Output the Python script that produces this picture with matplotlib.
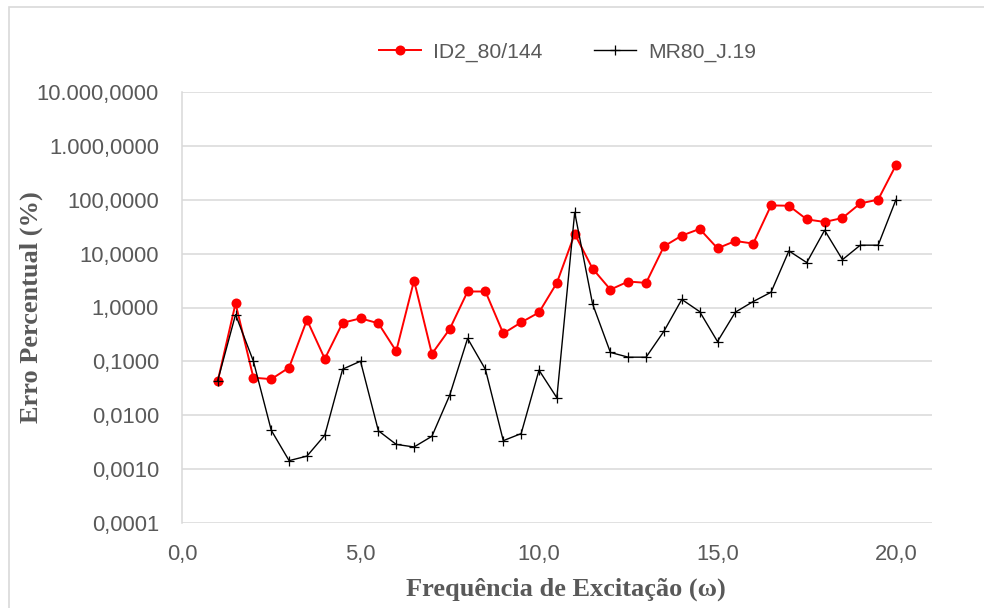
import matplotlib
matplotlib.use("Agg")
import matplotlib.pyplot as plt
from matplotlib.patches import Rectangle
from matplotlib.ticker import FixedLocator, FixedFormatter, NullLocator

# ---- data ----
freq = [1.0, 1.5, 2.0, 2.5, 3.0, 3.5, 4.0, 4.5, 5.0, 5.5, 6.0, 6.5, 7.0, 7.5,
        8.0, 8.5, 9.0, 9.5, 10.0, 10.5, 11.0, 11.5, 12.0, 12.5, 13.0, 13.5,
        14.0, 14.5, 15.0, 15.5, 16.0, 16.5, 17.0, 17.5, 18.0, 18.5, 19.0,
        19.5, 20.0]
id2 = [0.043, 1.19, 0.050, 0.047, 0.077, 0.59, 0.112, 0.52, 0.63, 0.51,
       0.155, 3.16, 0.138, 0.40, 1.98, 1.98, 0.33, 0.53, 0.81, 2.86, 23.1,
       5.27, 2.15, 3.03, 2.86, 13.6, 21.5, 28.6, 12.5, 17.1, 15.3, 78.0,
       77.0, 43.0, 38.5, 45.6, 85.0, 100.0, 437.0]
mr80 = [0.044, 0.74, 0.101, 0.0053, 0.00145, 0.00176, 0.0043, 0.072, 0.101,
        0.0052, 0.0029, 0.0026, 0.0041, 0.0238, 0.267, 0.071, 0.0034, 0.0046,
        0.069, 0.0212, 58.0, 1.17, 0.147, 0.12, 0.12, 0.364, 1.41, 0.84,
        0.234, 0.82, 1.29, 1.92, 11.2, 6.8, 27.0, 7.7, 14.3, 14.3, 100.0]
series_names = ["ID2_80/144", "MR80_J.19"]
y_ticks = [1e-4, 1e-3, 1e-2, 1e-1, 1, 10, 100, 1000, 10000]
y_tick_labels = ["0,0001", "0,0010", "0,0100", "0,1000", "1,0000",
                 "10,0000", "100,0000", "1.000,0000", "10.000,0000"]
x_ticks = [0, 5, 10, 15, 20]
x_tick_labels = ["0,0", "5,0", "10,0", "15,0", "20,0"]
x_label = "Frequência de Excitação (ω)"
y_label = "Erro Percentual (%)"

# ---- figure ----
W, H = 984, 608
fig = plt.figure(figsize=(W / 100, H / 100), dpi=100)
fig.patch.set_facecolor("white")

# outer chart border (partly cropped)
fig.add_artist(Rectangle((8.5 / W, -0.05), 1.2, (H - 6.5) / H + 0.05,
                         transform=fig.transFigure, fill=False,
                         edgecolor="#D9D9D9", linewidth=1.2, clip_on=False))

left, right, bottom, top = 182, 931.7, 523.3, 91.7
ax = fig.add_axes([left / W, 1 - bottom / H, (right - left) / W, (bottom - top) / H])

ax.plot(freq, id2, color="#FF0000", linewidth=1.4, marker="o",
        markersize=7.2, markeredgewidth=0, label=series_names[0], zorder=3)
ax.plot(freq, mr80, color="#000000", linewidth=1.0, marker="+",
        markersize=6.5, markeredgewidth=0.9, label=series_names[1], zorder=4)

ax.set_yscale("log")
ax.set_ylim(1e-4, 1e4)
ax.set_xlim(0, 21)
ax.yaxis.set_major_locator(FixedLocator(y_ticks))
ax.yaxis.set_major_formatter(FixedFormatter(y_tick_labels))
ax.yaxis.set_minor_locator(NullLocator())
ax.xaxis.set_major_locator(FixedLocator(x_ticks))
ax.xaxis.set_major_formatter(FixedFormatter(x_tick_labels))

ax.grid(axis="y", color="#D9D9D9", linewidth=1.1, zorder=0)
ax.set_axisbelow(True)
for s in ["top", "right", "bottom"]:
    ax.spines[s].set_visible(False)
ax.spines["left"].set_color("#D9D9D9")
ax.spines["left"].set_linewidth(1.1)

tick_family = ["Liberation Sans", "DejaVu Sans"]
tick_size = 15.8
ax.tick_params(axis="both", length=0, colors="#595959")
ax.tick_params(axis="y", pad=16.5)
ax.tick_params(axis="x", pad=15)
for lab in ax.get_xticklabels() + ax.get_yticklabels():
    lab.set_fontfamily(tick_family)
    lab.set_fontsize(tick_size)

label_font = dict(family=["Liberation Serif", "DejaVu Serif"], size=19,
                  weight="bold", color="#595959")
fig.text(566 / W, 1 - 589 / H, x_label, ha="center", va="center", **label_font)
fig.text(31 / W, 1 - 307.5 / H, y_label, ha="center", va="center",
         rotation=90, **label_font)

leg = fig.legend(loc="center", bbox_to_anchor=(567.5 / W, 1 - 52 / H), ncol=2,
                 frameon=False, handlelength=2.0, handletextpad=0.6,
                 columnspacing=2.4,
                 prop={"family": tick_family, "size": 15.2})
for t in leg.get_texts():
    t.set_color("#595959")

fig.savefig("out.png", dpi=100, facecolor="white")
